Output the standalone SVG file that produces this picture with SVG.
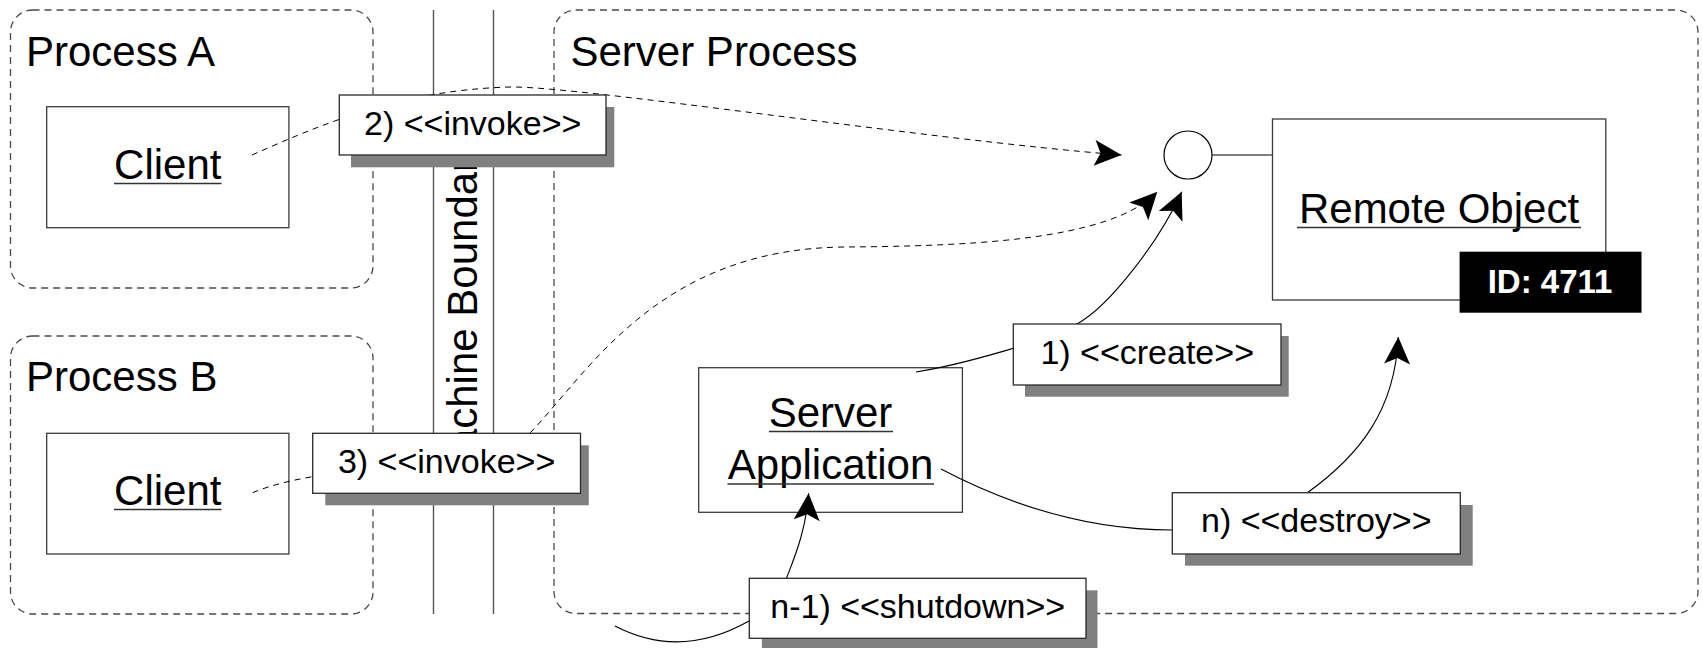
<svg xmlns="http://www.w3.org/2000/svg" width="1703" height="648" viewBox="0 0 1703 648">
  <style>
    .region { fill: none; stroke: #4a4a4a; stroke-width: 1.3; stroke-dasharray: 7 5; }
    .box { fill: #fff; stroke: #3c3c3c; stroke-width: 1.3; }
    .lbl { fill: #fff; stroke: #2a2a2a; stroke-width: 1.3; }
    .shadow { fill: #808080; }
    .big { font-family: "Liberation Sans", Arial, sans-serif; font-size: 42px; fill: #000; }
    .mid { text-anchor: middle; }
    .ul { stroke: #333; stroke-width: 1.6; }
    .small { font-family: "Liberation Sans", Arial, sans-serif; font-size: 34px; fill: #000; text-anchor: middle; }
    .dash { fill: none; stroke: #000; stroke-width: 1; stroke-dasharray: 6 5; }
    .solid { fill: none; stroke: #000; stroke-width: 1.1; }
    .arrowed { marker-end: url(#arrow); }
  </style>
  <defs>
    <marker id="arrow" markerUnits="userSpaceOnUse" orient="auto" overflow="visible"
            markerWidth="30" markerHeight="28" refX="0" refY="0">
      <path d="M0,0 L-27,-13 L-21,0 L-27,13 Z" fill="#000"/>
    </marker>
  </defs>

  <rect width="1703" height="648" fill="#fff"/>

  <!-- process regions -->
  <g id="process-a">
    <rect class="region" x="10.5" y="10" width="362.5" height="278" rx="22"/>
    <text class="big" x="26" y="66">Process A</text>
  </g>
  <g id="process-b">
    <rect class="region" x="10.5" y="336" width="362.5" height="278" rx="22"/>
    <text class="big" x="26" y="391">Process B</text>
  </g>
  <g id="server-process">
    <rect class="region" x="554" y="10" width="1144" height="603.5" rx="22"/>
    <text class="big" x="570.5" y="66">Server Process</text>
  </g>

  <!-- machine boundary band -->
  <g id="machine-boundary">
    <line x1="433.5" y1="10" x2="433.5" y2="614" stroke="#555" stroke-width="1.4"/>
    <line x1="493.5" y1="10" x2="493.5" y2="614" stroke="#555" stroke-width="1.4"/>
    <text class="big mid" font-size="44" transform="translate(477,312) rotate(-90)" x="0" y="0">Machine Boundary</text>
  </g>

  <!-- objects (names underlined) -->
  <g id="client-a">
    <rect class="box" x="46.7" y="106.7" width="242.2" height="121"/>
    <text class="big mid" x="167.8" y="179">Client</text>
    <line class="ul" x1="114" y1="183.5" x2="221.5" y2="183.5"/>
  </g>
  <g id="client-b">
    <rect class="box" x="46.7" y="433.3" width="242.2" height="120.7"/>
    <text class="big mid" x="167.8" y="505">Client</text>
    <line class="ul" x1="114" y1="509.5" x2="221.5" y2="509.5"/>
  </g>
  <g id="server-application">
    <rect class="box" x="698.7" y="367.7" width="263.7" height="144.6"/>
    <text class="big mid" x="830.5" y="426.7">Server</text>
    <line class="ul" x1="769" y1="431.5" x2="893" y2="431.5"/>
    <text class="big mid" x="830.5" y="479.3">Application</text>
    <line class="ul" x1="727.5" y1="484" x2="934" y2="484"/>
  </g>
  <g id="remote-object">
    <line x1="1212" y1="155" x2="1272.5" y2="155" stroke="#000" stroke-width="1.2"/>
    <circle cx="1188" cy="155" r="24" fill="#fff" stroke="#000" stroke-width="1.2"/>
    <rect class="box" x="1272.5" y="119" width="333.3" height="181"/>
    <text class="big mid" x="1439" y="222.7">Remote Object</text>
    <line class="ul" x1="1297" y1="227.5" x2="1581" y2="227.5"/>
    <rect x="1459.6" y="251.7" width="181.9" height="61" fill="#000"/>
    <text x="1550" y="292.7" font-family="'Liberation Sans', Arial, sans-serif" font-size="33" font-weight="bold" fill="#fff" text-anchor="middle">ID: 4711</text>
  </g>

  <!-- messages -->
  <g id="connectors">
    <path class="dash arrowed" d="M252,155 C320,125 400,90 510,87 C580,86 930,140 1121.5,155"/>
    <path class="dash arrowed" d="M252.6,492.7 C330,460 495,470 531,432 C590,370 660,248 846,247 C960,246 1110,242 1157.3,191.7"/>
    <path class="solid arrowed" d="M916,372 C960,365 1050,340 1077,324 C1110,306 1160,240 1181.7,191.7"/>
    <path class="solid arrowed" d="M941,469 C1000,500 1080,530 1172,530 C1230,530 1280,510 1307,493 C1360,455 1395,410 1398.3,337"/>
    <path class="solid arrowed" d="M615,626 Q680,660 749,621 C765,610 780,595 787,577 C795,556 806,530 808.6,493.3"/>
  </g>

  <!-- message labels -->
  <g id="labels">
    <g id="label-invoke-2">
      <rect class="shadow" x="351" y="107" width="263.3" height="60.3"/>
      <rect class="lbl" x="339.3" y="95" width="266.7" height="60"/>
      <text class="small" x="472.7" y="135">2) &lt;&lt;invoke&gt;&gt;</text>
    </g>
    <g id="label-invoke-3">
      <rect class="shadow" x="325.3" y="445.3" width="263.5" height="60"/>
      <rect class="lbl" x="312.7" y="433.3" width="267.8" height="60"/>
      <text class="small" x="446.6" y="472.7">3) &lt;&lt;invoke&gt;&gt;</text>
    </g>
    <g id="label-create">
      <rect class="shadow" x="1025" y="336" width="263.7" height="60.7"/>
      <rect class="lbl" x="1013.3" y="324" width="267.7" height="61"/>
      <text class="small" x="1147.2" y="364">1) &lt;&lt;create&gt;&gt;</text>
    </g>
    <g id="label-destroy">
      <rect class="shadow" x="1185" y="505" width="287.7" height="60.7"/>
      <rect class="lbl" x="1172.3" y="492.7" width="288" height="61.3"/>
      <text class="small" x="1316.3" y="532.3">n) &lt;&lt;destroy&gt;&gt;</text>
    </g>
    <g id="label-shutdown">
      <rect class="shadow" x="761.9" y="590.3" width="335.6" height="60"/>
      <rect class="lbl" x="749.3" y="578.3" width="336.7" height="60"/>
      <text class="small" x="917.7" y="618.3">n-1) &lt;&lt;shutdown&gt;&gt;</text>
    </g>
  </g>
</svg>
